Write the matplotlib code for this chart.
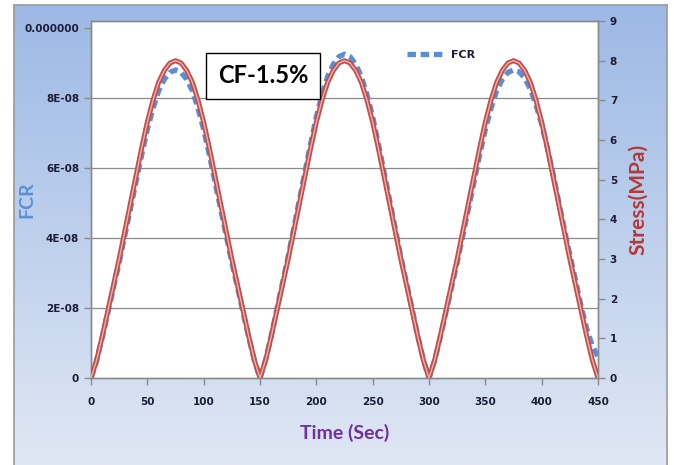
import matplotlib
matplotlib.use("Agg")
import matplotlib.pyplot as plt
import numpy as np

# time in seconds (5 s steps)
time_s = list(range(0, 455, 5))

# stress in MPa
stress = [0, 0.45, 1.05, 1.7, 2.35, 3.0, 3.7, 4.4, 5.1, 5.8, 6.45, 7.0, 7.45, 7.75, 7.94, 8.0,
          7.94, 7.75, 7.45, 7.0, 6.45, 5.8, 5.1, 4.4, 3.7, 3.0, 2.35, 1.7, 1.05, 0.45,
          0, 0.45, 1.05, 1.7, 2.35, 3.0, 3.7, 4.4, 5.1, 5.8, 6.45, 7.0, 7.45, 7.75, 7.94, 8.0,
          7.94, 7.75, 7.45, 7.0, 6.45, 5.8, 5.1, 4.4, 3.7, 3.0, 2.35, 1.7, 1.05, 0.45,
          0, 0.45, 1.05, 1.7, 2.35, 3.0, 3.7, 4.4, 5.1, 5.8, 6.45, 7.0, 7.45, 7.75, 7.94, 8.0,
          7.94, 7.75, 7.45, 7.0, 6.45, 5.8, 5.1, 4.4, 3.7, 3.0, 2.35, 1.7, 1.05, 0.45, 0]

# FCR in units of 1E-08
fcr = [0, 0.50, 1.16, 1.87, 2.59, 3.30, 4.07, 4.84, 5.61, 6.38, 7.10, 7.70, 8.20, 8.53, 8.73, 8.80,
       8.73, 8.53, 8.20, 7.70, 7.10, 6.38, 5.61, 4.84, 4.07, 3.30, 2.59, 1.87, 1.16, 0.50,
       0, 0.52, 1.21, 1.97, 2.72, 3.47, 4.28, 5.09, 5.90, 6.70, 7.46, 8.09, 8.61, 8.96, 9.18, 9.25,
       9.18, 8.96, 8.61, 8.09, 7.46, 6.70, 5.90, 5.09, 4.28, 3.47, 2.72, 1.97, 1.21, 0.52,
       0, 0.50, 1.16, 1.87, 2.59, 3.30, 4.07, 4.84, 5.61, 6.38, 7.10, 7.70, 8.20, 8.53, 8.73, 8.80,
       8.75, 8.56, 8.25, 7.80, 7.25, 6.58, 5.85, 5.06, 4.27, 3.52, 2.80, 2.05, 1.40, 0.92, 0.60]

x_ticks = [0, 50, 100, 150, 200, 250, 300, 350, 400, 450]
fcr_ticks = [0, 2, 4, 6, 8, 10]
fcr_tick_labels = ["0", "2E-08", "4E-08", "6E-08", "8E-08", "0.000000"]
stress_ticks = [0, 1, 2, 3, 4, 5, 6, 7, 8, 9]

fig = plt.figure(figsize=(6.74, 4.65), dpi=100)
fig.patch.set_facecolor("white")

# chart area with blue gradient
bg = fig.add_axes([14/674, 0, 653/674, 460/465])
top_c = np.array([156, 185, 229]) / 255
bot_c = np.array([224, 231, 244]) / 255
t = np.linspace(0, 1, 200)[:, None]
grad = (top_c * (1 - t) + bot_c * t)[:, None, :]
bg.imshow(grad, aspect="auto", extent=[0, 1, 0, 1])
bg.set_xticks([])
bg.set_yticks([])
for s in ["left", "top", "right"]:
    bg.spines[s].set_color("#9a9a9a")
    bg.spines[s].set_linewidth(1.2)
bg.spines["bottom"].set_visible(False)

ax = fig.add_axes([91/674, 87/465, 507/674, 357/465])
ax.set_facecolor("white")
grid_c = "#8a8a8a"
for g in fcr_ticks[1:-1]:
    ax.axhline(g, color=grid_c, lw=0.9, zorder=1)

ax.plot(time_s, fcr, color="#5a8fd6", lw=3.8, dashes=(1.6, 0.9), label="FCR", zorder=3)
ax.set_xlim(0, 450)
ax.set_ylim(0, 10.2)
ax.set_xticks(x_ticks)
ax.set_yticks(fcr_ticks)
ax.set_yticklabels(fcr_tick_labels)

ax2 = ax.twinx()
ax2.plot(time_s, stress, color="#c0504d", lw=3.6, zorder=3)
ax2.plot(time_s, stress, color="#eeb0ac", lw=1.0, zorder=4)
ax2.set_ylim(0, 9)
ax2.set_yticks(stress_ticks)

tick_c = "#1c1c38"
for a in (ax, ax2):
    for s in a.spines.values():
        s.set_color(grid_c)
        s.set_linewidth(1.0)
    a.tick_params(colors=grid_c, labelcolor=tick_c, length=5, width=1.0, labelsize=7.5)
    for lab in a.get_xticklabels() + a.get_yticklabels():
        lab.set_fontweight("bold")
ax.tick_params(axis="x", pad=9)

ax.set_xlabel("Time (Sec)", fontsize=14, fontweight="bold", color="#7030a0", family="Lato", labelpad=12)
ax.set_ylabel("FCR", fontsize=14, fontweight="bold", color="#5a8fd6", family="Lato")
ax.yaxis.set_label_coords(-0.11, 0.5)
ax2.set_ylabel("Stress(MPa)", fontsize=15, fontweight="bold", color="#b13a38", family="Lato", labelpad=8)

leg = ax2.legend(*ax.get_legend_handles_labels(), loc="center", bbox_to_anchor=(0.69, 0.905),
                 frameon=False, handlelength=3.2, prop={"weight": "bold", "size": 8})
for txt in leg.get_texts():
    txt.set_color(tick_c)

ax2.text(0.34, 0.846, "CF-1.5%", transform=ax.transAxes, ha="center", va="center",
         fontsize=17, fontweight="bold", family="Lato", color="black", zorder=6,
         bbox=dict(boxstyle="square,pad=0.5", facecolor="white", edgecolor="black", lw=1.0))

fig.savefig("out.png", dpi=100)
